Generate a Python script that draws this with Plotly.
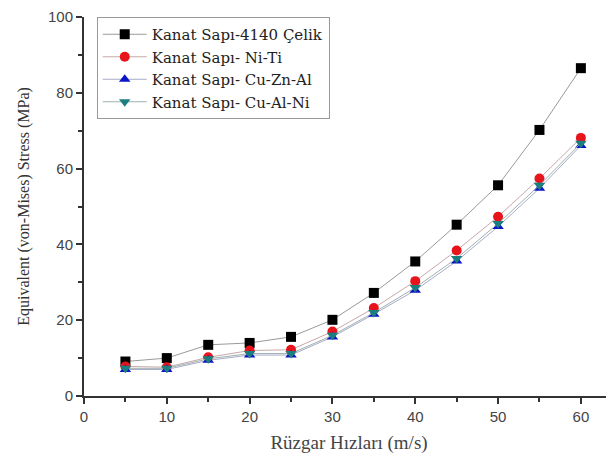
import plotly.graph_objects as go

wind_speed = [5, 10, 15, 20, 25, 30, 35, 40, 45, 50, 55, 60]
celik_4140 = [9.1, 10.0, 13.5, 14.0, 15.6, 20.1, 27.2, 35.5, 45.2, 55.6, 70.2, 86.5]
ni_ti = [7.8, 7.6, 10.2, 12.0, 12.2, 17.0, 23.2, 30.3, 38.4, 47.3, 57.4, 68.1]
cu_zn_al = [7.0, 7.0, 9.4, 10.8, 10.8, 15.6, 21.6, 27.9, 35.6, 44.7, 54.8, 66.1]
cu_al_ni = [7.3, 7.3, 9.8, 11.2, 11.2, 16.0, 22.0, 28.6, 36.3, 45.5, 55.6, 66.7]

series_names = ["Kanat Sapı-4140 Çelik", "Kanat Sapı- Ni-Ti",
                "Kanat Sapı- Cu-Zn-Al", "Kanat Sapı- Cu-Al-Ni"]
series_values = [celik_4140, ni_ti, cu_zn_al, cu_al_ni]
marker_colors = ["#000000", "#e8141c", "#0a14c8", "#1b7f7f"]
line_colors = ["#9a9a9a", "#c8a8a8", "#a8aac8", "#a0b0b0"]
symbols = ["square", "circle", "triangle-up", "triangle-down"]

fig = go.Figure()
for name, vals, mc, lc, sym in zip(series_names, series_values, marker_colors, line_colors, symbols):
    fig.add_trace(go.Scatter(
        x=wind_speed, y=vals, name=name, mode="lines+markers",
        line=dict(color=lc, width=1),
        marker=dict(symbol=sym, color=mc, size=10, line=dict(width=0)),
    ))

fig.update_layout(
    width=606, height=449,
    margin=dict(l=76, r=0, t=6, b=61),
    paper_bgcolor="white", plot_bgcolor="white",
    font=dict(family="Liberation Serif", size=14, color="#333333"),
    showlegend=True,
    legend=dict(
        x=0.024, y=1.0, xanchor="left", yanchor="top",
        bordercolor="#999999", borderwidth=1, bgcolor="white",
        font=dict(family="DejaVu Serif", size=15, color="#222222"),
        tracegroupgap=0, itemwidth=44,
    ),
)

fig.update_xaxes(
    range=[0, 64], tickmode="array", tickvals=[0, 10, 20, 30, 40, 50, 60],
    showline=True, linecolor="#333333", linewidth=2,
    ticks="outside", ticklen=6, tickwidth=2, tickcolor="#333333",
    minor=dict(tickvals=[5, 15, 25, 35, 45, 55], ticks="outside", ticklen=4, tickwidth=1.5, tickcolor="#333333"),
    showgrid=False, zeroline=False,
    tickfont=dict(family="Liberation Sans", size=15, color="#444444"),
    ticklabeloverflow="allow",
    title=dict(text="Rüzgar Hızları (m/s)", font=dict(family="Liberation Serif", size=19, color="#444444"), standoff=12),
)
fig.update_yaxes(
    range=[0, 100], tickmode="array", tickvals=[0, 20, 40, 60, 80, 100],
    showline=True, linecolor="#333333", linewidth=2,
    ticks="outside", ticklen=6, tickwidth=2, tickcolor="#333333",
    minor=dict(tickvals=[10, 30, 50, 70, 90], ticks="outside", ticklen=4, tickwidth=1.5, tickcolor="#333333"),
    showgrid=False, zeroline=False,
    tickfont=dict(family="Liberation Sans", size=15, color="#444444"),
    ticklabeloverflow="allow",
    title=dict(text="Equivalent (von-Mises) Stress (MPa)", font=dict(family="Liberation Serif", size=16, color="#333333"), standoff=14),
)

fig.write_html("out.html")
